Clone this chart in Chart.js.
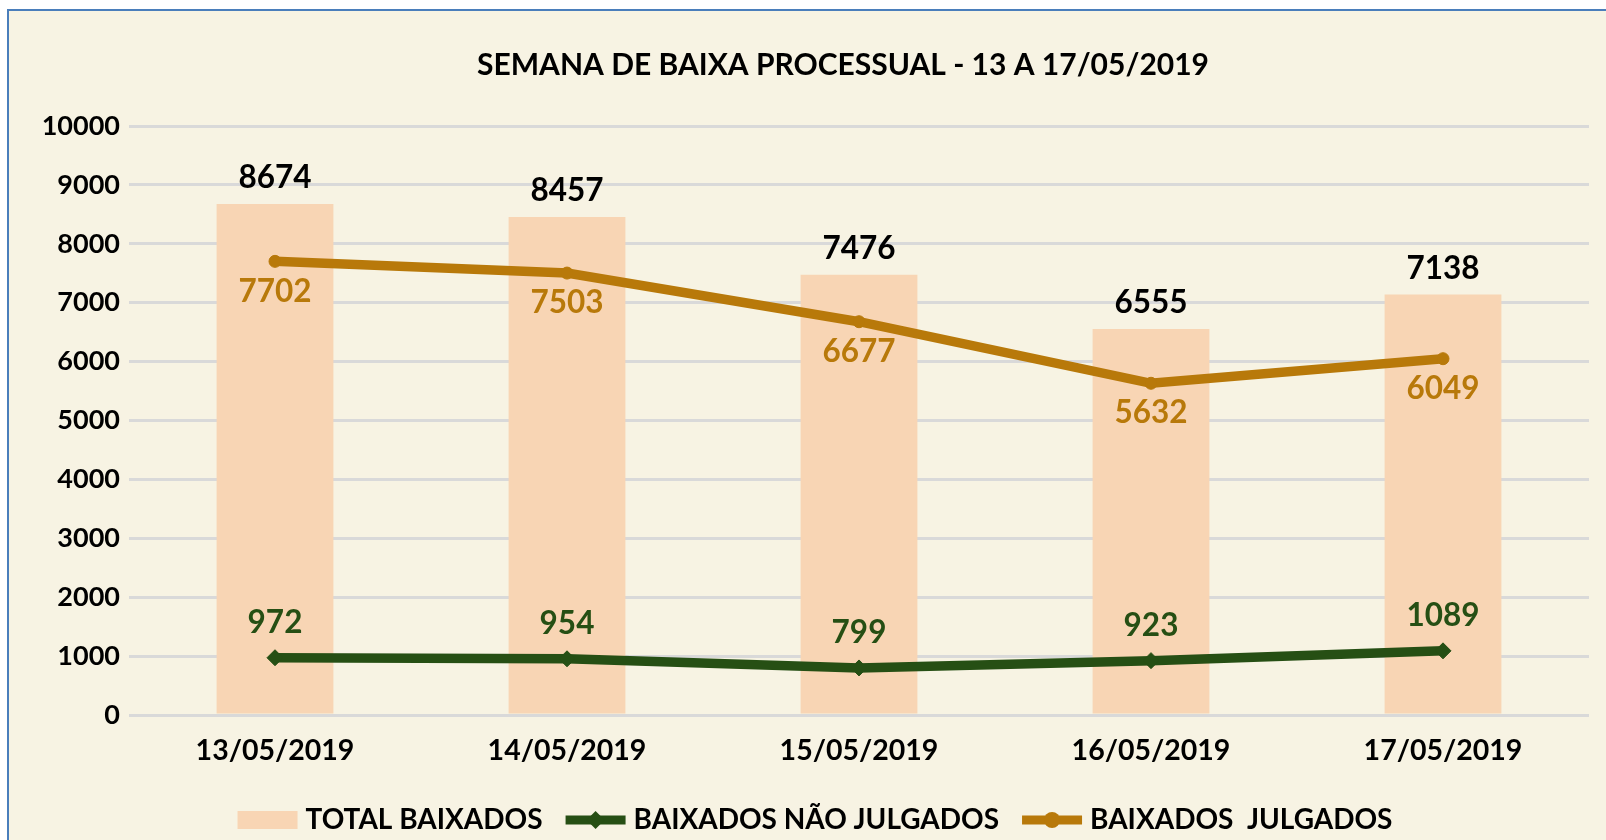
<!DOCTYPE html>
<html>
<head>
<meta charset="utf-8">
<script src="https://cdn.jsdelivr.net/npm/chart.js@4.4.0/dist/chart.umd.min.js"></script>
<style>
  html, body { margin: 0; padding: 0; background: #fff; overflow: hidden; }
  #frame { position: absolute; left: 7px; top: 9px; width: 1700px; height: 900px;
           border: 2px solid #4a7ebb; background: #f7f3e3; }
  #wrap  { position: absolute; left: 0; top: 0; width: 1606px; height: 840px; }
</style>
</head>
<body>
<div id="frame"></div>
<div id="wrap"><canvas id="chart"></canvas></div>
<script>
'use strict';

// ---- Data ----
const categories    = ['13/05/2019', '14/05/2019', '15/05/2019', '16/05/2019', '17/05/2019'];
const totalBaixados = [8674, 8457, 7476, 6555, 7138];
const naoJulgados   = [972, 954, 799, 923, 1089];
const julgados      = [7702, 7503, 6677, 5632, 6049];
const yMin = 0, yMax = 10000, yStep = 1000;

const titleText = 'SEMANA DE BAIXA PROCESSUAL - 13 A 17/05/2019';
const seriesNames = ['TOTAL BAIXADOS', 'BAIXADOS NÃO JULGADOS', 'BAIXADOS  JULGADOS'];

// ---- Styles ----
const FONT   = 'Lato, "Liberation Sans", sans-serif';
const C_BAR  = '#f8d5b4';
const C_GRN  = '#264f14';
const C_GOLD = '#b8790a';

// ---- Labels, title and legend drawn on the canvas ----
const overlay = {
  id: 'overlay',
  afterDatasetsDraw(chart) {
    const ctx = chart.ctx;
    ctx.save();
    ctx.textAlign = 'center';
    ctx.textBaseline = 'middle';
    ctx.font = 'bold 31.5px ' + FONT;

    chart.getDatasetMeta(0).data.forEach((el, i) => {
      ctx.fillStyle = '#000';
      ctx.fillText(totalBaixados[i], el.x, el.y - 26);
    });
    chart.getDatasetMeta(1).data.forEach((el, i) => {
      ctx.fillStyle = C_GRN;
      ctx.fillText(naoJulgados[i], el.x, el.y - 35);
    });
    chart.getDatasetMeta(2).data.forEach((el, i) => {
      ctx.fillStyle = C_GOLD;
      ctx.fillText(julgados[i], el.x, el.y + 30);
    });
    ctx.restore();
  },
  afterDraw(chart) {
    const ctx = chart.ctx;
    ctx.save();
    ctx.textBaseline = 'middle';

    // title
    ctx.textAlign = 'center';
    ctx.fillStyle = '#000';
    ctx.font = 'bold 30px ' + FONT;
    ctx.fillText(titleText, 843, 65);

    // legend
    ctx.textAlign = 'left';
    ctx.font = 'bold 28px ' + FONT;
    const markW = 60, gapT = 8, gapI = 23;
    const widths = seriesNames.map(t => ctx.measureText(t).width);
    let total = 0;
    widths.forEach((w, i) => { total += markW + gapT + w + (i < widths.length - 1 ? gapI : 0); });
    let x = 815 - total / 2;
    const y = 820;
    seriesNames.forEach((name, i) => {
      if (i === 0) {
        ctx.fillStyle = C_BAR;
        ctx.fillRect(x, y - 9, markW, 18);
      } else {
        const col = i === 1 ? C_GRN : C_GOLD;
        ctx.strokeStyle = col;
        ctx.fillStyle = col;
        ctx.lineWidth = 9;
        ctx.beginPath();
        ctx.moveTo(x, y);
        ctx.lineTo(x + markW, y);
        ctx.stroke();
        Chart.helpers.drawPoint(ctx, {
          pointStyle: i === 1 ? 'rectRot' : 'circle',
          radius: i === 1 ? 9 : 8,
          rotation: 0,
          borderWidth: 0
        }, x + markW / 2, y);
      }
      ctx.fillStyle = '#000';
      ctx.fillText(name, x + markW + gapT, y);
      x += markW + gapT + widths[i] + gapI;
    });
    ctx.restore();
  }
};

new Chart(document.getElementById('chart'), {
  data: {
    labels: categories,
    datasets: [
      {
        type: 'bar',
        label: seriesNames[0],
        data: totalBaixados,
        backgroundColor: C_BAR,
        barPercentage: 0.4,
        categoryPercentage: 1,
        order: 3
      },
      {
        type: 'line',
        label: seriesNames[1],
        data: naoJulgados,
        borderColor: C_GRN,
        backgroundColor: C_GRN,
        borderWidth: 9.5,
        pointStyle: 'rectRot',
        pointRadius: 8,
        pointBorderWidth: 1,
        tension: 0,
        order: 2
      },
      {
        type: 'line',
        label: seriesNames[2],
        data: julgados,
        borderColor: C_GOLD,
        backgroundColor: C_GOLD,
        borderWidth: 9.5,
        pointStyle: 'circle',
        pointRadius: 6,
        pointBorderWidth: 1,
        tension: 0,
        order: 1
      }
    ]
  },
  options: {
    responsive: true,
    maintainAspectRatio: false,
    animation: false,
    layout: { padding: { top: 126, right: 17, bottom: 0, left: 0 } },
    plugins: {
      legend: { display: false },
      tooltip: { enabled: false }
    },
    scales: {
      x: {
        grid: { display: false },
        border: { display: false },
        ticks: { color: '#000', padding: 11, font: { family: FONT, size: 28.5, weight: 'bold' } },
        afterFit: s => { s.height = 125; }
      },
      y: {
        min: yMin,
        max: yMax,
        grid: { color: '#d9d9d9', lineWidth: 3, drawTicks: false },
        border: { display: false },
        ticks: {
          stepSize: yStep,
          color: '#000',
          padding: 9,
          font: { family: FONT, size: 27, weight: 'bold' },
          callback: v => String(v)
        },
        afterFit: s => { s.width = 129; }
      }
    }
  },
  plugins: [overlay]
});
</script>
</body>
</html>
